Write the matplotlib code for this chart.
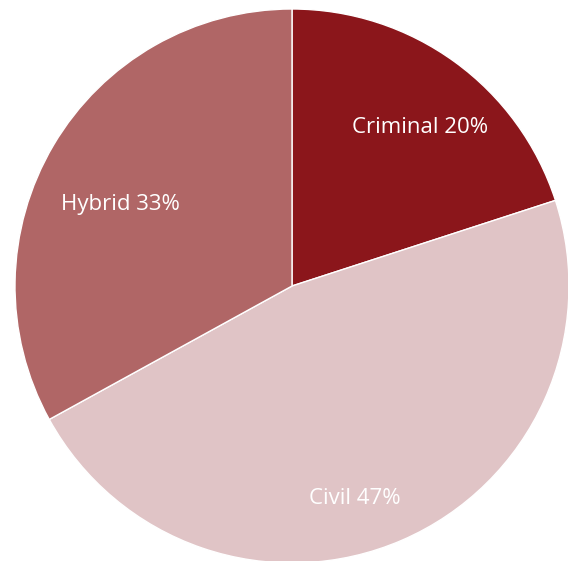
import matplotlib
matplotlib.use('Agg')
import matplotlib.pyplot as plt

labels = ['Criminal', 'Civil', 'Hybrid']
shares = [20, 47, 33]
colors = ['#8b161b', '#e0c4c6', '#b06666']
# label anchor points (x, y) in the axes' pixel-like units
label_xy = [(420, 434), (355, 62), (120, 357)]

fig = plt.figure(figsize=(5.68, 5.61), dpi=100)
ax = fig.add_axes([0, 0, 1, 1])

ax.pie(shares, colors=colors, startangle=90, counterclock=False,
       center=(292, 275), radius=277, frame=True,
       wedgeprops={'edgecolor': 'white', 'linewidth': 1})
ax.set_xlim(0, 568)
ax.set_ylim(0, 561)
ax.set_aspect('equal')
ax.axis('off')

for name, pct, (x, y) in zip(labels, shares, label_xy):
    ax.text(x, y, f'{name} {pct}%', color='white', fontsize=16,
            family='Open Sans', ha='center', va='center')

fig.savefig('out.png', dpi=100)
